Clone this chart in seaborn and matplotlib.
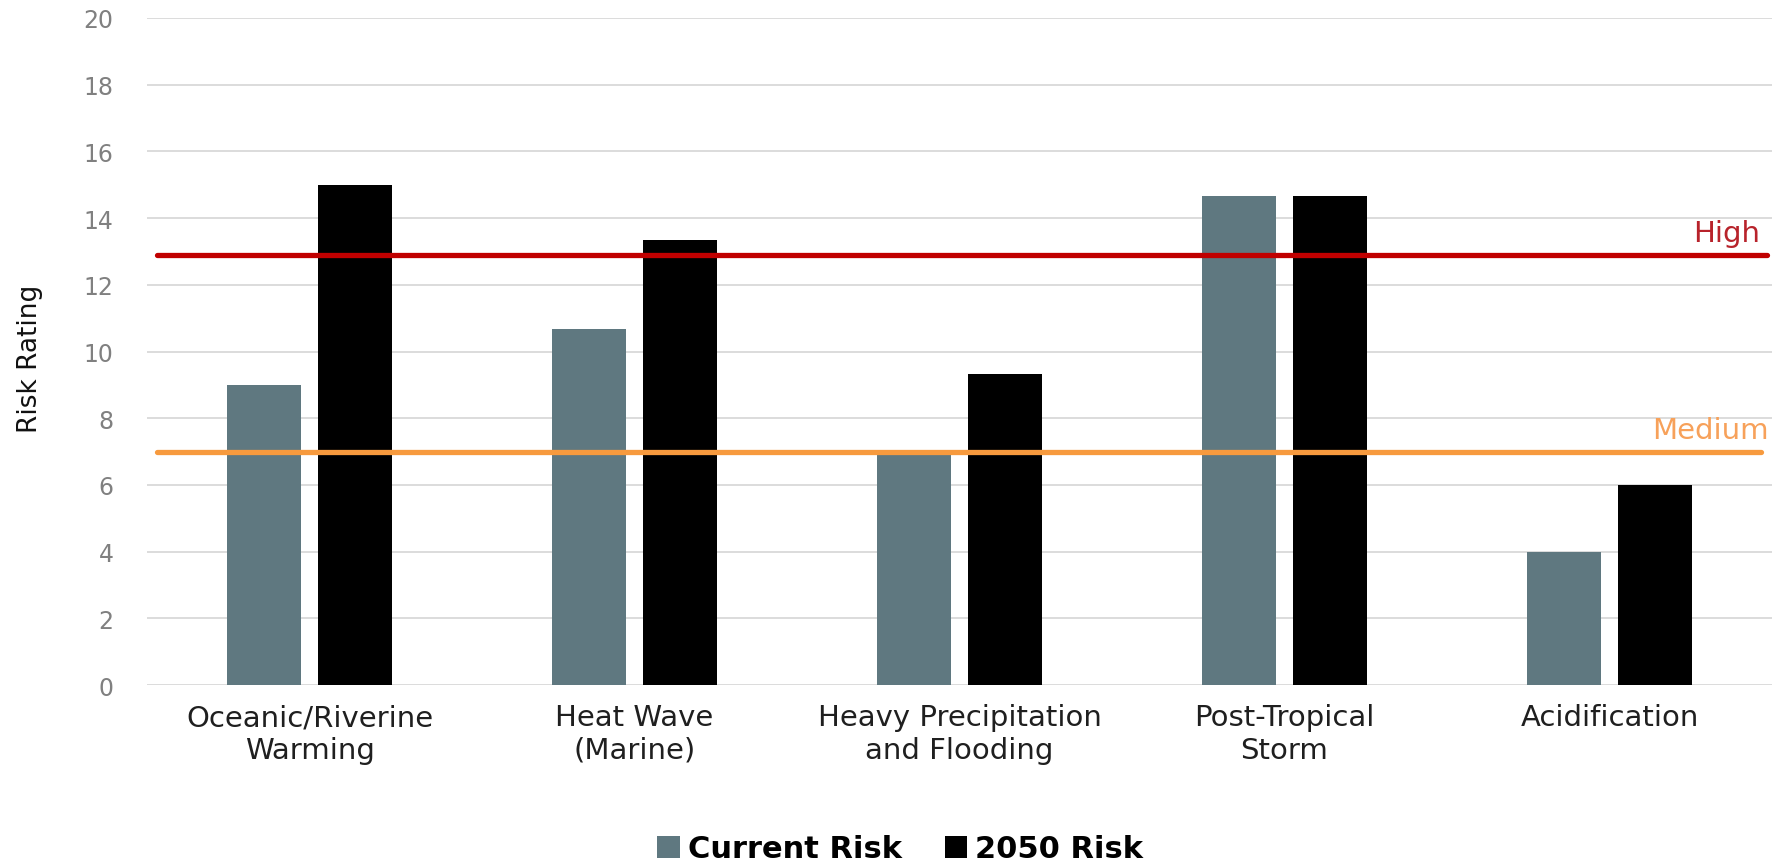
import matplotlib
matplotlib.use("Agg")
import matplotlib.pyplot as plt
from matplotlib.patches import Patch
import seaborn as sns
import pandas as pd

# Hazard categories and risk ratings
categories = [
    "Oceanic/Riverine\nWarming",
    "Heat Wave\n(Marine)",
    "Heavy Precipitation\nand Flooding",
    "Post-Tropical\nStorm",
    "Acidification",
]
current_risk = [9.0, 10.67, 7.0, 14.67, 4.0]
risk_2050 = [15.0, 13.33, 9.33, 14.67, 6.0]
series_names = ["Current Risk", "2050 Risk"]

# Threshold levels
high_level = 12.9
medium_level = 7.0
y_ticks = list(range(0, 21, 2))

colors = {"Current Risk": "#5f7880", "2050 Risk": "#000000"}

df = pd.DataFrame({
    "Hazard": categories * 2,
    "Series": [series_names[0]] * len(categories) + [series_names[1]] * len(categories),
    "Rating": current_risk + risk_2050,
})

sns.set_style("white")
plt.rcParams["font.family"] = ["DejaVu Sans"]

fig = plt.figure(figsize=(17.72, 8.62), dpi=100)
ax = fig.add_axes([0.083, 0.204, 0.917, 0.774])

sns.barplot(
    data=df, x="Hazard", y="Rating", hue="Series", order=categories,
    hue_order=series_names, palette=colors, width=0.562, gap=0.185,
    saturation=1, legend=False, ax=ax, linewidth=0, zorder=2,
)

ax.set_xlim(-0.5, 4.5)
ax.set_ylim(0, 20)
ax.set_yticks(y_ticks)
ax.yaxis.grid(True, color="#d9d9d9", linewidth=1.3, zorder=0)
ax.xaxis.grid(False)
ax.set_axisbelow(True)
for s in ax.spines.values():
    s.set_visible(False)

ax.tick_params(axis="y", length=0, pad=24, labelsize=17, labelcolor="#808080")
ax.tick_params(axis="x", length=0, pad=13, labelsize=21, labelcolor="#1f1f1f")
ax.set_xlabel("")
ax.set_ylabel("Risk Rating", fontsize=19, color="#111111")
ax.yaxis.set_label_coords(-0.064, 0.49)

# Threshold lines drawn over the bars
ax.axhline(high_level, xmin=0.006, xmax=0.997, color="#c00000", linewidth=3.8, zorder=3)
ax.axhline(medium_level, xmin=0.006, xmax=0.993, color="#f79a3e", linewidth=3.8, zorder=3)
ax.text(4.463, high_level + 0.4, "High", color="#b8232b", fontsize=21,
        ha="right", va="baseline", zorder=4)
ax.text(4.49, medium_level + 0.4, "Medium", color="#f7a15a", fontsize=21,
        ha="right", va="baseline", zorder=4)

handles = [Patch(facecolor=colors[n], edgecolor="none", label=n) for n in series_names]
leg = fig.legend(
    handles=handles, loc="center", bbox_to_anchor=(0.508, 0.014), ncol=2,
    frameon=False, handlelength=0.75, handleheight=0.75, handletextpad=0.25,
    columnspacing=1.4, prop={"weight": "bold", "size": 22},
)
for t in leg.get_texts():
    t.set_color("#000000")

fig.savefig("out.png", dpi=100)
